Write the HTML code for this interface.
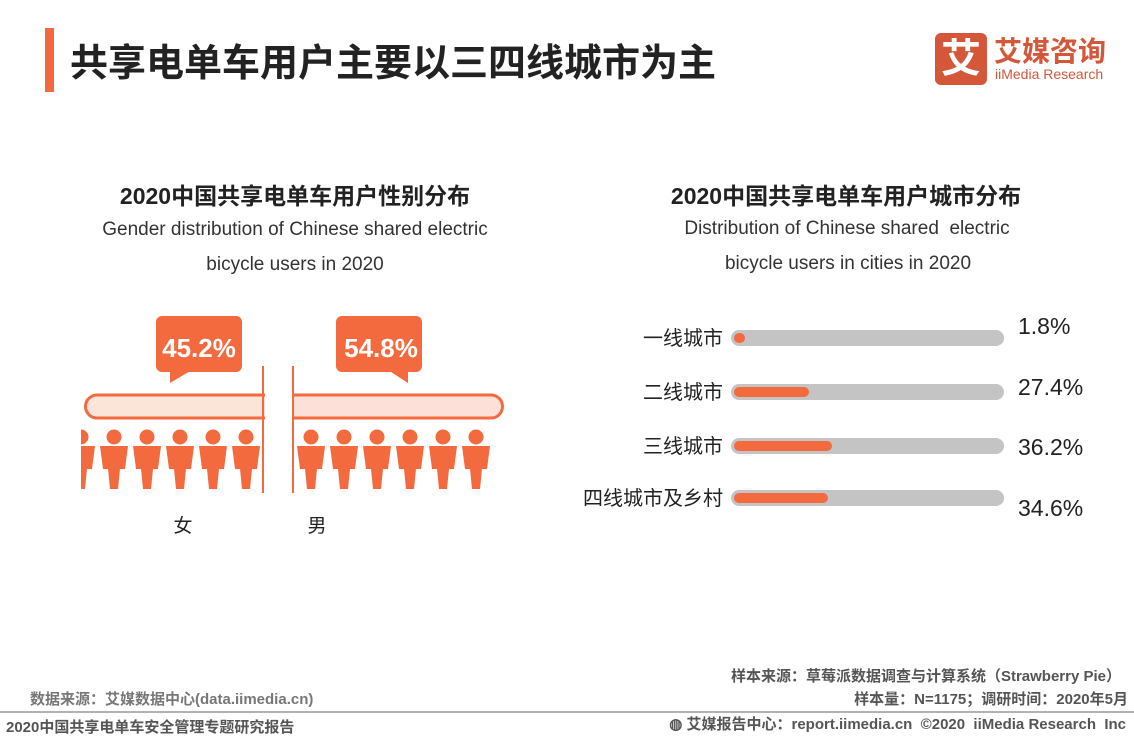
<!DOCTYPE html>
<html><head><meta charset="utf-8"><style>
body{margin:0;width:1134px;height:737px;background:#fff;position:relative;overflow:hidden;font-family:"Liberation Sans","Noto Sans CJK SC",sans-serif;}
.a{position:absolute;white-space:nowrap}
.c{text-align:center}
</style></head><body>
<div class="a" style="left:45px;top:28px;width:9px;height:64px;background:#f26a3d"></div>
<div class="a" style="left:70px;top:32px;font-size:38px;font-weight:bold;color:#222">共享电单车用户主要以三四线城市为主</div>
<div class="a" style="left:935px;top:33px;width:52px;height:52px;background:#d4573a;border-radius:6px;color:#fff;font-size:40px;line-height:52px;text-align:center;font-weight:bold">艾</div>
<div class="a" style="left:994px;top:30px;font-size:28px;font-weight:bold;color:#d4573a">艾媒咨询</div>
<div class="a" style="left:995px;top:66px;font-size:14px;color:#d4573a">iiMedia Research</div>

<div class="a c" style="left:80px;width:430px;top:177px;font-size:23px;font-weight:bold;color:#222">2020中国共享电单车用户性别分布</div>
<div class="a c" style="left:80px;width:430px;top:219px;font-size:19px;color:#333">Gender distribution of Chinese shared electric</div>
<div class="a c" style="left:80px;width:430px;top:254px;font-size:19px;color:#333">bicycle users in 2020</div>
<div class="a c" style="left:631px;width:430px;top:177px;font-size:23px;font-weight:bold;color:#222">2020中国共享电单车用户城市分布</div>
<div class="a c" style="left:632px;width:430px;top:218px;font-size:19px;color:#333">Distribution of Chinese shared&nbsp; electric</div>
<div class="a c" style="left:633px;width:430px;top:253px;font-size:19px;color:#333">bicycle users in cities in 2020</div>

<svg class="a" style="left:0;top:0" width="1134" height="737">
<defs><clipPath id="cl"><rect x="81" y="420" width="182" height="80"/></clipPath>
<g id="p"><circle cx="0" cy="8" r="7.5" fill="#f26a3d"/><path d="M-14 17 H14 L11 40 H6 L4 60 H-4 L-6 40 H-11 Z" fill="#f26a3d"/></g></defs>
<rect x="156" y="316" width="86" height="56" rx="6" fill="#f26a3d"/><path d="M170 370 L170 383 L192 370Z" fill="#f26a3d"/>
<text x="199" y="357" font-size="26" font-weight="bold" fill="#fff" text-anchor="middle">45.2%</text>
<rect x="336" y="316" width="86" height="56" rx="6" fill="#f26a3d"/><path d="M388 370 L408 383 L408 370Z" fill="#f26a3d"/>
<text x="381" y="357" font-size="26" font-weight="bold" fill="#fff" text-anchor="middle">54.8%</text>
<path d="M265 395 H97 a11.5 11.5 0 0 0 0 23 H265" fill="#fbe4d8" stroke="#f26a3d" stroke-width="3"/>
<path d="M293 395 H491 a11.5 11.5 0 0 1 0 23 H293" fill="#fde0d8" stroke="#f26a3d" stroke-width="3"/>
<line x1="263" y1="366" x2="263" y2="493" stroke="#f26a3d" stroke-width="2"/>
<line x1="293" y1="366" x2="293" y2="493" stroke="#f26a3d" stroke-width="2"/>
<g clip-path="url(#cl)"><use href="#p" x="81" y="429"/><use href="#p" x="114" y="429"/><use href="#p" x="147" y="429"/><use href="#p" x="180" y="429"/><use href="#p" x="213" y="429"/><use href="#p" x="246" y="429"/></g>
<use href="#p" x="311" y="429"/><use href="#p" x="344" y="429"/><use href="#p" x="377" y="429"/><use href="#p" x="410" y="429"/><use href="#p" x="443" y="429"/><use href="#p" x="476" y="429"/>
<text x="183" y="532" font-size="19" fill="#222" text-anchor="middle">女</text>
<text x="317" y="532" font-size="19" fill="#222" text-anchor="middle">男</text>
<g stroke-linecap="round" stroke-width="16">
<line x1="739" y1="338" x2="996" y2="338" stroke="#c4c4c4"/><line x1="739" y1="338" x2="740" y2="338" stroke="#f26a3d" stroke-width="10"/>
<line x1="739" y1="392" x2="996" y2="392" stroke="#c4c4c4"/><line x1="739" y1="392" x2="804" y2="392" stroke="#f26a3d" stroke-width="10"/>
<line x1="739" y1="446" x2="996" y2="446" stroke="#c4c4c4"/><line x1="739" y1="446" x2="827" y2="446" stroke="#f26a3d" stroke-width="10"/>
<line x1="739" y1="498" x2="996" y2="498" stroke="#c4c4c4"/><line x1="739" y1="498" x2="823" y2="498" stroke="#f26a3d" stroke-width="10"/>
</g>
<g font-size="20" fill="#222" text-anchor="end"><text x="723" y="345">一线城市</text><text x="723" y="399">二线城市</text><text x="723" y="453">三线城市</text><text x="723" y="505">四线城市及乡村</text></g>
<g font-size="23" fill="#222"><text x="1018" y="334">1.8%</text><text x="1018" y="395">27.4%</text><text x="1018" y="455">36.2%</text><text x="1018" y="516">34.6%</text></g>
<line x1="0" y1="712" x2="1134" y2="712" stroke="#999" stroke-width="1.5"/>
</svg>

<div class="a" style="right:13px;top:665px;font-size:15px;font-weight:bold;color:#555">样本来源：草莓派数据调查与计算系统（Strawberry Pie）</div>
<div class="a" style="right:6px;top:688px;font-size:15px;font-weight:bold;color:#555">样本量：N=1175；调研时间：2020年5月</div>
<div class="a" style="left:30px;top:688px;font-size:15px;font-weight:bold;color:#777">数据来源：艾媒数据中心(data.iimedia.cn)</div>
<div class="a" style="left:6px;top:716px;font-size:15px;font-weight:bold;color:#555">2020中国共享电单车安全管理专题研究报告</div>
<div class="a" style="right:8px;top:713px;font-size:15px;font-weight:bold;color:#555">◍ 艾媒报告中心：report.iimedia.cn&nbsp;&nbsp;©2020&nbsp; iiMedia Research&nbsp; Inc</div>
</body></html>
